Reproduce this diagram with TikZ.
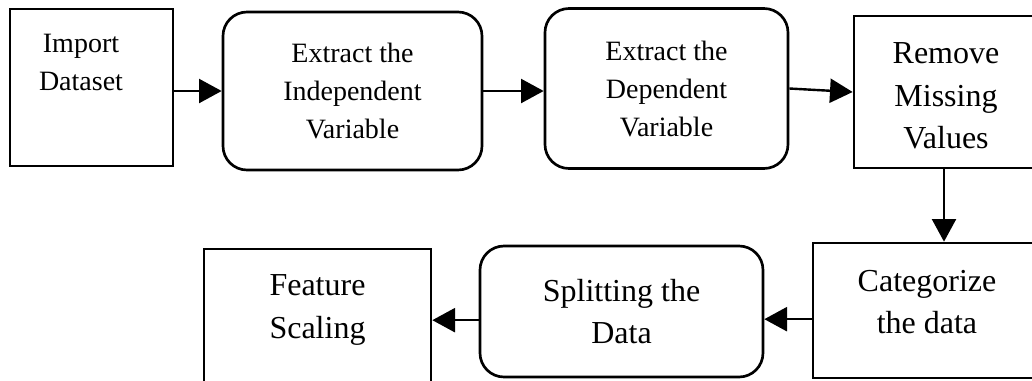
\documentclass[tikz,border=0pt]{standalone}
\usepackage{fontspec}
\setmainfont{Liberation Serif}
\usetikzlibrary{arrows.meta}
\begin{document}
\begin{tikzpicture}[x=0.75pt,y=-0.75pt,every node/.style={inner sep=0pt,align=center},
  sqbox/.style={draw,line width=2pt},
  rndbox/.style={sqbox,rounded corners=18pt},
  smalltxt/.style={font=\fontsize{21}{28.5}\selectfont},
  bigtxt/.style={font=\fontsize{24}{32}\selectfont},
  >={Triangle[length=17pt,width=18pt]}]
\clip (0,0) rectangle (1032,380);
\node[sqbox,minimum width=122.25pt,minimum height=117.75pt] (imp) at (91.5,87.5) {};
\node[smalltxt] (impt) at (81,62) {Import\\Dataset};
\node[rndbox,smalltxt,minimum width=194.25pt,minimum height=118.5pt] (ind) at (352.5,91) {Extract the\\Independent\\Variable};
\node[rndbox,smalltxt,minimum width=182.25pt,minimum height=120pt] (dep) at (666.5,88.5) {Extract the\\Dependent\\Variable};
\node[sqbox,minimum width=135pt,minimum height=114pt] (rem) at (944,92) {};
\node[bigtxt] (remt) at (946,96) {Remove\\Missing\\Values};
\node[sqbox,minimum width=171pt,minimum height=101.25pt] (cat) at (927,310.5) {};
\node[bigtxt] (catt) at (927,302) {Categorize\\the data};
\node[rndbox,bigtxt,minimum width=212.25pt,minimum height=98.25pt] (spl) at (621.5,311.5) {Splitting the\\Data};
\node[sqbox,minimum width=170.25pt,minimum height=113.25pt] (fs) at (317.5,324.5) {};
\node[bigtxt] (fst) at (317.5,310) {Feature\\Scaling};
\draw[->,line width=1.8pt] (imp.east |- ind.west)--(ind.west);
\draw[->,line width=1.8pt] (ind.east)--(ind.east -| dep.west);
\draw[->,line width=1.8pt] (dep.east)--(rem.west);
\draw[->,line width=1.8pt] (rem.south)--(rem.south |- cat.north);
\draw[->,line width=1.8pt] ([yshift=-6.5pt]cat.west)--([yshift=-6.5pt]cat.west -| spl.east);
\draw[->,line width=1.8pt] ([yshift=-6.5pt]spl.west)--([yshift=-6.5pt]spl.west -| fs.east);
\end{tikzpicture}
\end{document}
